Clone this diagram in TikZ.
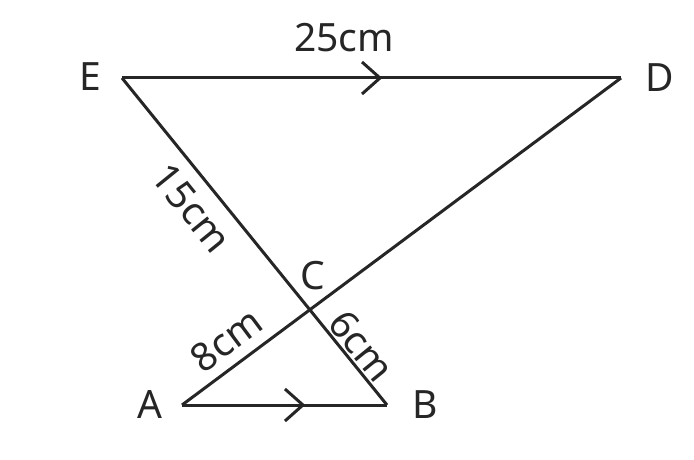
\documentclass[tikz,border=0pt]{standalone}
\usepackage{fontspec}
\setmainfont{Noto Sans}
\usetikzlibrary{calc,intersections}
\begin{document}
\begin{tikzpicture}[x=1pt,y=-1pt,
  seg/.style={line width=3pt,draw=black!85},
  lbl/.style={font=\fontsize{39}{46}\selectfont,text=black!85,inner sep=0pt},
  chev/.style={line width=3pt,draw=black!85}]
\useasboundingbox (0,0) rectangle (694,460);
\coordinate (E) at (122,78);
\coordinate (D) at (621,78);
\coordinate (A) at (182,405);
\coordinate (B) at (387,405);
\draw[seg,name path=eb] (E) -- (B);
\draw[seg,name path=ad] (A) -- (D);
\draw[seg] (E) -- (D);
\draw[seg] (A) -- (B);
\path[name intersections={of=eb and ad,by=C}];
\coordinate (t1) at ($(E)!0.517!(D)$);
\coordinate (t2) at ($(A)!0.59!(B)$);
\draw[chev] ($(t1)+(-18,-16)$) -- (t1) -- ($(t1)+(-18,16)$);
\draw[chev] ($(t2)+(-18,-16)$) -- (t2) -- ($(t2)+(-18,16)$);
\node[lbl] (lE) at (90,77) {E};
\node[lbl] (lD) at (660,78) {D};
\node[lbl] (lA) at (150,405) {A};
\node[lbl] (lB) at (425,405) {B};
\node[lbl] (lC) at (313,276) {C};
\node[lbl] (l25) at (344,38) {25cm};
\node[lbl,rotate=-51] (l15) at (192,208) {15cm};
\node[lbl,rotate=36.7] (l8) at (226,340) {8cm};
\node[lbl,rotate=-51] (l6) at (362,346) {6cm};
\end{tikzpicture}
\end{document}
